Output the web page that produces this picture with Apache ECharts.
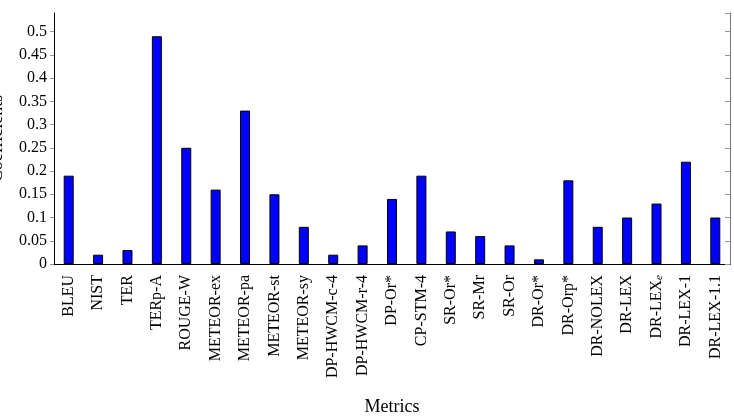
<!DOCTYPE html>
<html>
<head>
<meta charset="utf-8">
<script src="https://cdn.jsdelivr.net/npm/echarts@6/dist/echarts.min.js"></script>
<style>
  html, body { margin: 0; padding: 0; background: #fff; }
  #main { width: 734px; height: 418px; }
</style>
</head>
<body>
<div id="main"></div>
<script>
"use strict";
// metric names along the x axis
let metrics = ['BLEU', 'NIST', 'TER', 'TERp-A', 'ROUGE-W', 'METEOR-ex', 'METEOR-pa',
  'METEOR-st', 'METEOR-sy', 'DP-HWCM-c-4', 'DP-HWCM-r-4', 'DP-Or*', 'CP-STM-4',
  'SR-Or*', 'SR-Mr', 'SR-Or', 'DR-Or*', 'DR-Orp*', 'DR-NOLEX', 'DR-LEX', 'DR-LEXe',
  'DR-LEX-1', 'DR-LEX-1.1'];
// coefficient per metric
let coefficients = [0.19, 0.02, 0.03, 0.49, 0.25, 0.16, 0.33, 0.15, 0.08, 0.02, 0.04,
  0.14, 0.19, 0.07, 0.06, 0.04, 0.01, 0.18, 0.08, 0.10, 0.13, 0.22, 0.10];
let yTicks = [0, 0.05, 0.1, 0.15, 0.2, 0.25, 0.3, 0.35, 0.4, 0.45, 0.5];

let serif = 'Liberation Serif';
let myChart = echarts.init(document.getElementById('main'));

function fmtTick(v) {
  // pgfplots style: 0, 0.05, 0.1 ...
  let t = yTicks.find(function (x) { return Math.abs(x - v) < 1e-9; });
  return t === undefined ? '' : String(t);
}

let option = {
  animation: false,
  grid: { left: 54, right: 4, top: 13, bottom: 154, outerBoundsMode: 'none', containLabel: false },
  xAxis: [{
    type: 'category',
    data: metrics,
    name: 'Metrics',
    nameLocation: 'middle',
    nameGap: 134,
    nameTextStyle: { fontFamily: serif, fontSize: 18, color: '#000' },
    axisLine: { lineStyle: { color: '#000', width: 1 } },
    axisTick: { alignWithLabel: true, length: 4, lineStyle: { color: '#999' } },
    axisLabel: {
      rotate: 90, interval: 0, margin: 11, color: '#000',
      fontFamily: serif, fontSize: 16,
      formatter: function (v) {
        return v === 'DR-LEXe' ? 'DR-LEX{sub|e}' : v;
      },
      rich: { sub: { fontFamily: serif, fontSize: 11, fontStyle: 'italic', color: '#000', verticalAlign: 'bottom', padding: [6, 0, 0, 0] } }
    }
  }, {
    type: 'category',
    data: metrics,
    position: 'top',
    axisLine: { lineStyle: { color: '#000', width: 1 } },
    axisTick: { alignWithLabel: true, length: 4, lineStyle: { color: '#999' } },
    axisLabel: { show: false }
  }],
  yAxis: [{
    type: 'value',
    min: 0, max: 0.54, interval: 0.05,
    name: 'Coefficients',
    nameLocation: 'middle',
    nameGap: 48,
    nameTextStyle: { fontFamily: serif, fontSize: 18, color: '#000' },
    splitLine: { show: false },
    axisLine: { show: true, lineStyle: { color: '#000', width: 1 } },
    axisTick: { show: true, length: 4, lineStyle: { color: '#999' } },
    axisLabel: { margin: 7, color: '#000', fontFamily: serif, fontSize: 16, formatter: fmtTick, showMaxLabel: false }
  }, {
    type: 'value',
    position: 'right',
    min: 0, max: 0.54, interval: 0.05,
    splitLine: { show: false },
    axisLine: { show: true, lineStyle: { color: '#777', width: 1 } },
    axisTick: { show: true, inside: true, length: 5, lineStyle: { color: '#999' } },
    axisLabel: { show: false }
  }],
  series: [{
    type: 'bar',
    data: coefficients,
    barWidth: 10,
    itemStyle: { color: '#0000ff', borderColor: '#000', borderWidth: 1 }
  }]
};
myChart.setOption(option);
</script>
</body>
</html>
